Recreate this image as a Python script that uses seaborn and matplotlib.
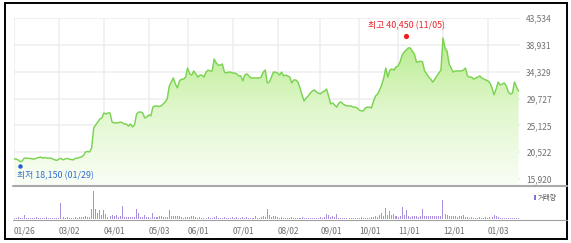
import numpy as np
import pandas as pd
import matplotlib
matplotlib.use("Agg")
import matplotlib.pyplot as plt
import seaborn as sns
from matplotlib.lines import Line2D
from matplotlib.patches import Rectangle, Polygon
from matplotlib.colors import LinearSegmentedColormap

# ---------------- data ----------------
start_date = "2021-01-26"
end_date = "2022-01-24"
holidays = ["2021-02-11", "2021-02-12", "2021-03-01", "2021-05-05", "2021-05-19",
            "2021-08-16", "2021-09-20", "2021-09-21", "2021-09-22", "2021-10-04",
            "2021-10-11", "2021-12-31"]

close = [
    19350, 19350, 19200, 18900, 19000, 19500, 19500, 19450, 19450, 19350,
    19350, 19500, 19600, 19700, 19500, 19600, 19500, 19500, 19500, 19350,
    19200, 19100, 19350, 19450, 19200, 19350, 19450, 19350, 19250, 19200,
    19450, 19500, 19600, 19700, 19950, 20550, 20650, 20550, 21250, 24650,
    25200, 25700, 26200, 26400, 27250, 27050, 27250, 27250, 25700, 25550,
    25550, 25550, 25700, 25600, 25350, 25350, 25000, 25350, 24850, 25200,
    27050, 27400, 27400, 27250, 26400, 26550, 26900, 26750, 28250, 28450,
    28450, 28350, 28450, 28800, 29150, 29650, 31850, 32550, 33250, 32200,
    31550, 32750, 33050, 33050, 33400, 34950, 33950, 33750, 34450, 33950,
    33400, 33750, 33750, 33400, 34250, 34600, 34450, 34450, 36500, 35800,
    35450, 35450, 35650, 34250, 34100, 34250, 34250, 34100, 34100, 33950,
    33600, 33600, 32750, 33750, 33950, 33600, 33250, 33250, 33250, 33250,
    33250, 33400, 34250, 34600, 32400, 32550, 33400, 34250, 34250, 34100,
    33750, 34250, 33600, 33750, 33600, 33400, 32400, 32900, 32900, 32550,
    31550, 30350, 29300, 29800, 30150, 30650, 31000, 31200, 30850, 30650,
    30500, 30850, 31000, 31350, 30150, 28800, 28950, 28600, 28250, 28950,
    29150, 28800, 28600, 28450, 28450, 28450, 28250, 28250, 28100, 27750,
    27600, 27600, 28100, 28250, 28250, 28100, 29300, 30150, 30500, 31200,
    32050, 33250, 34950, 33400, 34600, 34800, 34600, 35150, 35300, 36000,
    37200, 37700, 38050, 38400, 38400, 37850, 37350, 36000, 36000, 36150,
    36000, 34450, 33950, 33400, 33050, 32550, 33050, 33600, 34100, 34600,
    40100, 38400, 37850, 35650, 34950, 34250, 34450, 34450, 34450, 34450,
    34600, 34950, 33600, 33400, 33400, 33050, 33250, 33400, 33600, 33250,
    33050, 32900, 32750, 32400, 31550, 30350, 31350, 32550, 32050, 32200,
    32400, 31850, 30850, 30500, 30650, 32550, 31700, 31000,
]

volume = [
    150, 120, 160, 140, 130, 400, 150, 130, 150, 120,
    140, 160, 130, 120, 150, 130, 170, 140, 120, 150,
    130, 140, 150, 1600, 200, 150, 230, 140, 120, 150,
    170, 140, 180, 200, 160, 300, 200, 250, 1000, 2800,
    1000, 600, 900, 400, 870, 470, 250, 300, 400, 300,
    450, 200, 300, 1300, 250, 250, 200, 200, 250, 200,
    1000, 600, 200, 250, 450, 200, 200, 150, 600, 200,
    200, 300, 350, 200, 200, 250, 870, 300, 300, 350,
    300, 300, 250, 150, 200, 250, 250, 300, 300, 200,
    150, 170, 150, 130, 150, 160, 130, 150, 200, 270,
    150, 130, 150, 230, 150, 120, 150, 170, 130, 160,
    150, 120, 230, 150, 170, 140, 150, 130, 270, 150,
    130, 170, 270, 200, 1050, 450, 250, 300, 300, 170,
    150, 160, 130, 150, 140, 150, 250, 150, 130, 150,
    140, 160, 150, 130, 150, 120, 140, 150, 130, 150,
    160, 140, 200, 530, 450, 200, 300, 200, 530, 150,
    130, 150, 140, 130, 150, 120, 140, 150, 130, 150,
    160, 140, 150, 130, 150, 200, 250, 330, 250, 450,
    600, 300, 1070, 450, 800, 400, 530, 300, 250, 300,
    1200, 400, 870, 300, 250, 280, 300, 330, 250, 300,
    970, 300, 330, 300, 280, 300, 300, 330, 300, 300,
    1870, 530, 400, 300, 300, 280, 300, 250, 300, 280,
    400, 200, 170, 150, 180, 150, 130, 150, 170, 150,
    140, 160, 150, 200, 250, 370, 300, 200, 150, 130,
    150, 140, 130, 150, 120, 150, 130, 150,
]

tick_dates = ["2021-01-26", "2021-03-02", "2021-04-01", "2021-05-03", "2021-06-01",
              "2021-07-01", "2021-08-02", "2021-09-01", "2021-10-01", "2021-11-01",
              "2021-12-01", "2022-01-03"]
tick_labels = ["01/26", "03/02", "04/01", "05/03", "06/01", "07/01",
               "08/02", "09/01", "10/01", "11/01", "12/01", "01/03"]
y_ticks = [15920, 20522, 25125, 29727, 34329, 38931, 43534]
low_value, low_date, low_label_date = 18150, "2021-01-29", "01/29"
high_value, high_date, high_label_date = 40450, "2021-11-05", "11/05"
volume_label = "거래량"

# ---------------- prep ----------------
sns.set_style("white")
plt.rcParams["font.family"] = ["Noto Sans CJK KR", "DejaVu Sans"]

dates = pd.bdate_range(start_date, end_date, freq="C", holidays=holidays)
n = min(len(dates), len(close), len(volume))
dates = dates[:n]
df = pd.DataFrame({"idx": np.arange(n), "close": close[:n], "volume": volume[:n]})
pos = {d.strftime("%Y-%m-%d"): i for i, d in enumerate(dates)}
tick_pos = [pos[d] for d in tick_dates if d in pos]

W, H = 571, 243
fig = plt.figure(figsize=(W / 100, H / 100), dpi=100)
ax = fig.add_axes([14 / W, 1 - 186 / H, 506 / W, 168 / H])
axv = fig.add_axes([14 / W, 1 - 219 / H, 506 / W, 33 / H])

ymin, ymax = 14720, 43534
xmax = n - 1 + 0.7

# gradient fill under the price line
verts = [(0, ymin)] + list(zip(df["idx"], df["close"])) + [(n - 1, ymin)]
poly = Polygon(verts, closed=True, transform=ax.transData, facecolor="none", edgecolor="none")
ax.add_patch(poly)
cmap = LinearSegmentedColormap.from_list("g", ["#fafef6", "#e0f7cc", "#b4eb88"])
grad = np.linspace(0, 1, 256).reshape(-1, 1)
im = ax.imshow(grad, extent=[0, n - 1, ymin, 41000], origin="lower", aspect="auto",
               cmap=cmap, zorder=1, interpolation="bilinear")
im.set_clip_path(poly)

sns.lineplot(data=df, x="idx", y="close", ax=ax, color="#7bd352", linewidth=1.05,
             zorder=3, legend=False)

ax.set_xlim(0, xmax)
ax.set_ylim(ymin, ymax)
ax.set_xticks(tick_pos)
ax.set_xticklabels([])
ax.set_yticks(y_ticks)
ax.set_yticklabels([f"{v:,}" for v in y_ticks])
ax.yaxis.tick_right()
ax.tick_params(axis="y", length=0, pad=4.5, labelsize=6, labelcolor="#707070")
ax.tick_params(axis="x", length=0)
ax.grid(True, color="#eeeeee", linewidth=1.1, zorder=0)
ax.set_axisbelow(True)
ax.set_xlabel("")
ax.set_ylabel("")
for s in ax.spines.values():
    s.set_visible(False)

# min / max markers
li, hi = pos[low_date], pos[high_date]
ax.scatter([li], [low_value], s=10, color="#1f5fd6", zorder=5, linewidths=0)
ax.scatter([hi], [high_value], s=14, color="#f01a1a", zorder=5, linewidths=0)
ax.annotate(f"최저 {low_value:,} ({low_label_date})", (li, low_value),
            xytext=(-2.2, -6.8), textcoords="offset points", ha="left", va="center",
            fontsize=6.4, color="#2f6fd0", zorder=6)
ax.annotate(f"최고 {high_value:,} ({high_label_date})", (hi, high_value),
            xytext=(0, 7.5), textcoords="offset points", ha="center", va="center",
            fontsize=6.4, color="#e8232b", zorder=6)

# volume
sns.barplot(data=df, x="idx", y="volume", ax=axv, native_scale=True, color="#a98fdc",
            width=0.5, errorbar=None, saturation=1, linewidth=0, antialiased=False)
axv.set_xlim(0, xmax)
axv.set_ylim(0, 3300)
axv.set_yticks([])
axv.set_xticks(tick_pos)
axv.set_xticklabels(tick_labels, ha="left")
axv.tick_params(axis="x", length=2.2, width=0.7, color="#999999", pad=3.2,
                labelsize=6, labelcolor="#707070", direction="out")
axv.set_xlabel("")
axv.set_ylabel("")
for s in axv.spines.values():
    s.set_visible(False)

# separator / baseline lines and frame
fig.add_artist(Line2D([13 / W, 567 / W], [1 - 186 / H, 1 - 186 / H], color="#a9a9a9",
                      linewidth=1.5, transform=fig.transFigure))
fig.add_artist(Line2D([13 / W, 567 / W], [1 - 219.5 / H, 1 - 219.5 / H], color="#a0a0a0",
                      linewidth=0.8, transform=fig.transFigure))
fig.add_artist(Rectangle((5 / W, 1 - 239 / H), 562 / W, 236 / H, fill=False,
                         edgecolor="black", linewidth=1.4, transform=fig.transFigure))

# volume legend
fig.add_artist(Rectangle((534 / W, 1 - 200 / H), 2 / W, 5 / H, facecolor="#8a6fd0",
                         edgecolor="none", transform=fig.transFigure))
fig.text(538 / W, 1 - 197.5 / H, volume_label, fontsize=5, color="#555555",
         ha="left", va="center")

fig.savefig("out.png", dpi=100)
